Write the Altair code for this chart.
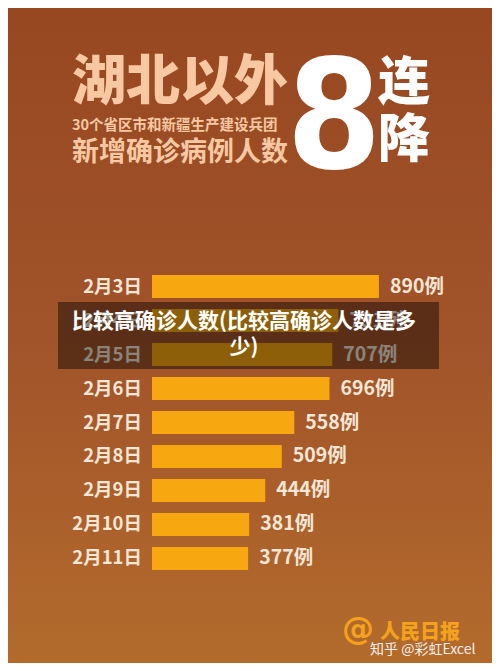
import altair as alt
import pandas as pd

# ---- data ----
dates = ["2月3日", "2月4日", "2月5日", "2月6日", "2月7日", "2月8日", "2月9日", "2月10日", "2月11日"]
cases = [890, 731, 707, 696, 558, 509, 444, 381, 377]
unit = "例"

title_main = ["湖北以外"]
title_sub1 = ["30个省区市和新疆生产建设兵团"]
title_sub2 = ["新增确诊病例人数"]
big_number = ["8"]
big_word = ["连", "降"]
overlay_lines = ["比较高确诊人数(比较高确诊人数是多", "少)"]
logo_at = ["@"]
logo_name = ["人民日报"]
watermark = ["知乎 @彩虹Excel"]

W, H = 484, 655
CJK = "Noto Sans CJK SC"

df = pd.DataFrame({"date": dates, "cases": cases})
df["label"] = [f"{c}{unit}" for c in cases]

one = alt.Data(values=[{"k": 1}])

bg = alt.Chart(one).mark_rect(
    color=alt.LinearGradient(
        gradient="linear",
        stops=[
            alt.GradientStop(color="#974820", offset=0),
            alt.GradientStop(color="#a1532a", offset=0.5),
            alt.GradientStop(color="#b36b2c", offset=1),
        ],
        x1=0, x2=0, y1=0, y2=1,
    )
).encode(x=alt.value(0), x2=alt.value(W), y=alt.value(0), y2=alt.value(H))

yscale = alt.Scale(domain=dates, range=[267, 562], paddingInner=0.3235, paddingOuter=0)
xscale = alt.Scale(domain=[0, 1000], range=[144, 399])

base = alt.Chart(df)
bars = base.mark_bar(color="#f7a70f").encode(
    x=alt.X("cases:Q", scale=xscale, axis=None),
    y=alt.Y("date:N", scale=yscale, sort=dates, axis=None),
)
date_labels = base.mark_text(
    align="right", baseline="middle", font=CJK, fontWeight="bold", fontSize=18.5, color="#f5e6d6"
).encode(
    x=alt.value(134),
    y=alt.Y("date:N", scale=yscale, sort=dates, axis=None),
    text="date:N",
)
value_labels = base.mark_text(
    align="left", baseline="middle", dx=11, font=CJK, fontWeight="bold", fontSize=19.5, color="#f5e6d6"
).encode(
    x=alt.X("cases:Q", scale=xscale, axis=None),
    y=alt.Y("date:N", scale=yscale, sort=dates, axis=None),
    text="label:N",
)

overlay = alt.Chart(one).mark_rect(color="#000000", opacity=0.43).encode(
    x=alt.value(50), x2=alt.value(431), y=alt.value(294), y2=alt.value(361)
)
overlay_text = alt.Chart(one).mark_text(
    align="center", baseline="middle", font=CJK, fontWeight="bold", fontSize=21,
    color="#ffffff", lineHeight=26,
).encode(x=alt.value(236), y=alt.value(314), text=alt.value(overlay_lines))

peach = "#f8c8a3"
t1 = alt.Chart(one).mark_text(
    align="left", baseline="middle", font=CJK, fontWeight=900, fontSize=54, color=peach
).encode(x=alt.value(64), y=alt.value(76), text=alt.value(title_main[0]))
t2 = alt.Chart(one).mark_text(
    align="left", baseline="middle", font=CJK, fontWeight="bold", fontSize=14.5, color=peach
).encode(x=alt.value(64), y=alt.value(118), text=alt.value(title_sub1[0]))
t3 = alt.Chart(one).mark_text(
    align="left", baseline="middle", font=CJK, fontWeight="bold", fontSize=27, color=peach
).encode(x=alt.value(64), y=alt.value(145), text=alt.value(title_sub2[0]))
t8 = alt.Chart(one).mark_text(
    align="center", baseline="alphabetic",
    font="DejaVu Sans Condensed, Liberation Sans Narrow, Liberation Sans, sans-serif",
    fontWeight="bold", fontSize=152, color="#ffffff"
).encode(x=alt.value(326), y=alt.value(160), text=alt.value(big_number[0]))
tw = alt.Chart(one).mark_text(
    align="center", baseline="middle", font=CJK, fontWeight=900, fontSize=52, color="#ffffff",
    lineHeight=57,
).encode(x=alt.value(396), y=alt.value(76), text=alt.value(big_word))

logo1 = alt.Chart(one).mark_text(
    align="center", baseline="middle", font="DejaVu Sans", fontWeight="bold", fontSize=32, color="#f2a21c"
).encode(x=alt.value(350), y=alt.value(621), text=alt.value(logo_at[0]))
logo2 = alt.Chart(one).mark_text(
    align="left", baseline="middle", font=CJK, fontWeight=900, fontSize=20, color="#f2a21c"
).encode(x=alt.value(372), y=alt.value(625), text=alt.value(logo_name[0]))
wm = alt.Chart(one).mark_text(
    align="left", baseline="middle", font=CJK, fontSize=14, color="#ffffff", opacity=0.9
).encode(x=alt.value(362), y=alt.value(642), text=alt.value(watermark[0]))

chart = alt.layer(
    bg, bars, date_labels, value_labels, overlay, overlay_text, t1, t2, t3, t8, tw, logo1, logo2, wm
).properties(
    width=W, height=H, padding=0, autosize="none"
).configure_view(stroke=None).configure(background="#9a4c23")

chart.save("out.html", embed_options={"renderer": "svg", "actions": False})
